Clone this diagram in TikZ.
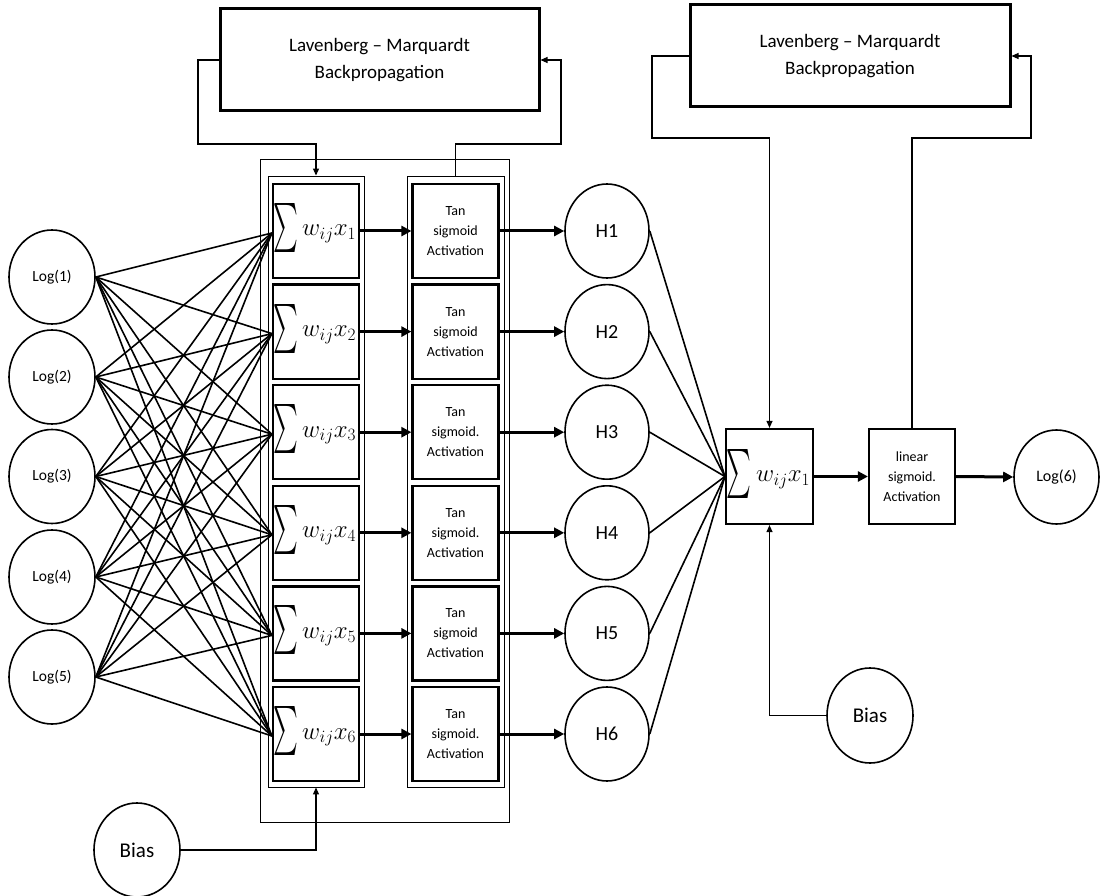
\documentclass[tikz,border=0pt]{standalone}
\usepackage{graphicx}
\usepackage{fontspec}
\setmainfont{Carlito}
\usetikzlibrary{arrows.meta,shapes.geometric}
\newcommand\sigmasym{\scalebox{2.35}[4.9]{$\textstyle\sum$}}
\begin{document}
\begin{tikzpicture}[x=1pt,y=-1pt,
  every node/.style={font=\fontsize{15.5}{18}\selectfont},
  neuron/.style={ellipse, draw, line width=1.6pt, minimum width=86pt, minimum height=94pt, inner sep=0pt},
  unitbox/.style={rectangle, draw, line width=2.2pt, minimum width=86pt, minimum height=94pt, inner sep=0pt},
  lmbox/.style={rectangle, draw, line width=3pt, minimum width=319pt, minimum height=102pt, align=center, font=\fontsize{19}{27}\selectfont},
  act/.style={unitbox, align=center, font=\fontsize{14}{20}\selectfont},
  sig/.style={anchor=west, inner sep=0pt},
  wx/.style={anchor=base west, inner sep=0pt, font=\fontsize{23}{23}\selectfont},
  frame/.style={draw, line width=0.9pt, inner sep=0pt},
  link/.style={line width=1.6pt},
  fb/.style={line width=1.1pt, -{Triangle[length=7pt,width=6pt]}},
  thickarrow/.style={line width=3pt, -{Triangle[length=10pt,width=10pt]}},
]
\useasboundingbox (0,0) rectangle (1101,896);

% frames
\node[frame, minimum width=249pt, minimum height=663pt] (bigframe) at (384.5,490.5) {};
\node[frame, minimum width=96pt, minimum height=611pt] (lcol) at (316,481.5) {};
\node[frame, minimum width=97pt, minimum height=611pt] (rcol) at (455.5,481.5) {};

% LM boxes
\node[lmbox] (lm1) at (379.5,60) {Lavenberg -- Marquardt\\Backpropagation};
\node[lmbox, minimum width=320pt] (lm2) at (850,56) {Lavenberg -- Marquardt\\Backpropagation};

% inputs
\foreach \j/\y in {1/277,2/377,3/476.5,4/577,5/677}{
  \node[neuron] (l\j) at (52,\y) {Log(\j)};
}

% hidden layer
\foreach \i/\y/\s in {1/231/sigmoid,2/331.6/sigmoid,3/432.2/sigmoid.,4/532.8/sigmoid.,5/633.4/sigmoid,6/734/sigmoid.}{
  \node[unitbox] (s\i) at (316,\y) {};
  \node[sig] (g\i) at ([xshift=1pt,yshift=3pt]s\i.west) {\sigmasym};
  \node[wx] (w\i) at ([xshift=30pt,yshift=-5pt]s\i.west) {$w_{ij}x_{\i}$};
  \node[act] (a\i) at (455.5,\y) {Tan\\\s\\Activation};
  \node[neuron, minimum width=84pt, font=\fontsize{20}{24}\selectfont] (h\i) at (607,\y) {H\i};
  \draw[thickarrow] (s\i.east) -- (a\i.west);
  \draw[thickarrow] (a\i.east) -- (h\i.west);
}

\foreach \j in {1,...,5}{
  \foreach \i in {1,...,6}{
    \draw[link] (l\j.east) -- ([yshift=-2pt]s\i.west);
  }
}

% output part
\node[unitbox, minimum width=87pt, minimum height=95pt] (t) at (769.5,476.5) {};
\node[sig] (tg) at ([xshift=1pt,yshift=3pt]t.west) {\sigmasym};
\node[wx] (tw) at ([xshift=31pt,yshift=-5pt]t.west) {$w_{ij}x_1$};
\node[act, minimum width=86pt, minimum height=95pt] (lin) at (912,476.5) {linear\\sigmoid.\\Activation};
\node[neuron, minimum width=85pt, font=\fontsize{16}{19}\selectfont] (out) at (1056.5,477) {Log(6)};

\foreach \i in {1,...,6}{
  \draw[link] (h\i.east) -- (t.west);
}
\draw[thickarrow] (t.east) -- (lin.west);
\draw[thickarrow] (lin.east) -- (out.west);

% bias nodes
\node[neuron, font=\fontsize{21}{24}\selectfont] (b1) at (137,850) {Bias};
\node[neuron, minimum height=95pt, font=\fontsize{21}{24}\selectfont] (b2) at (870,715.5) {Bias};

% feedback connectors
\coordinate (k1) at (198,144);
\coordinate (k2) at (561,144);
\coordinate (k3) at (652,138);
\coordinate (k4) at (1031,138);
\draw[fb] (lm1.west) -| (k1) -| (lcol.north);
\draw[fb] (rcol.north) |- (k2) |- (lm1.east);
\draw[fb] (lm2.west) -| (k3) -| (t.north);
\draw[fb] (lin.north) |- (k4) |- (lm2.east);
\draw[fb] (b1.east) -| (lcol.south);
\draw[fb] (b2.west) -| (t.south);
\end{tikzpicture}
\end{document}
